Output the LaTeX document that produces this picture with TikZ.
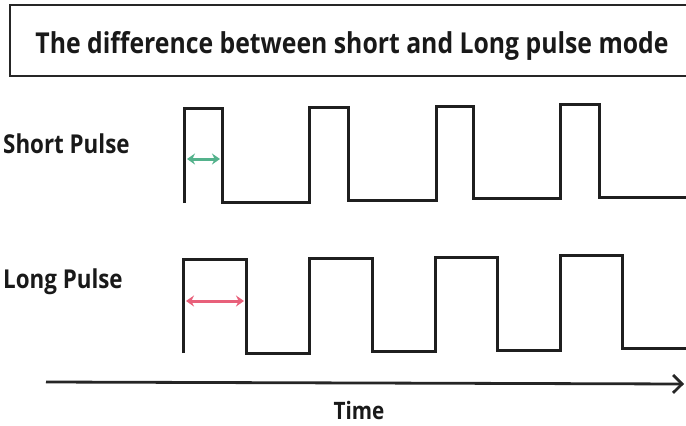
\documentclass[tikz,border=0pt]{standalone}
\usepackage{fontspec}
\setmainfont{Open Sans}[FakeStretch=0.86]
\usetikzlibrary{arrows.meta}
\definecolor{shortcol}{RGB}{84,178,140}
\definecolor{longcol}{RGB}{232,96,122}
\tikzset{
  wave/.style={line width=3pt, line join=miter, black!88},
  lbl/.style={font=\bfseries\fontsize{26}{30}\selectfont, text=black!90, inner sep=0pt},
  widtharrow/.style={line width=3pt, {Stealth[length=8pt,width=11pt]}-{Stealth[length=8pt,width=11pt]}},
}
\begin{document}
\begin{tikzpicture}[x=1pt,y=-1pt]
\useasboundingbox (0,0) rectangle (686,426);
% title box (open to the right)
\draw[line width=2.5pt, black!85] (686,5) -- (10,5) -- (10,76) -- (686,76);
\node[lbl, font=\bfseries\fontsize{28.8}{33}\selectfont, anchor=base] (title) at (352,53) {The difference between short and Long pulse mode};
% labels
\node[lbl, anchor=base west] (shortlbl) at (3,153) {Short Pulse};
\node[lbl, anchor=base west] (longlbl) at (3,288) {Long Pulse};
\node[lbl, font=\bfseries\fontsize{24}{28}\selectfont, anchor=base] (timelbl) at (359,419) {Time};
% short pulse waveform
\draw[wave] (184,203) -- (184,108) -- (222,108) -- (222,202) -- (309,202) -- (309,107)
  -- (348,107) -- (348,200) -- (436,200) -- (436,106) -- (473,106) -- (473,198)
  -- (560,198) -- (560,104) -- (599,104) -- (599,197) -- (686,197);
% long pulse waveform
\draw[wave] (183,353) -- (183,259) -- (246,259) -- (246,353) -- (309,353) -- (309,258)
  -- (372,258) -- (372,351) -- (435,351) -- (435,257) -- (497,257) -- (497,350)
  -- (560,350) -- (560,255) -- (622,255) -- (622,348) -- (686,348);
% width arrows
\coordinate (sa) at (187,159);
\coordinate (sb) at (220,159);
\draw[widtharrow, shortcol] (sa) -- (sb);
\coordinate (la) at (186,301);
\coordinate (lb) at (244,301);
\draw[widtharrow, longcol] (la) -- (lb);
% time axis
\coordinate (t0) at (46,382);
\coordinate (t1) at (684,384);
\draw[line width=2.8pt, black!85, -{Straight Barb[length=9pt,width=18pt,line width=2.8pt]}] (t0) -- (t1);
\end{tikzpicture}
\end{document}
